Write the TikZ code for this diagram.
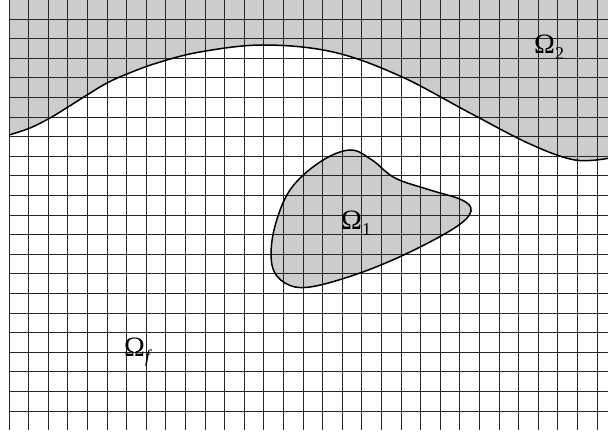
\documentclass[tikz,border=0pt]{standalone}
\usepackage{fontspec}
\setmainfont{Liberation Serif}
\definecolor{regiongray}{RGB}{204,204,204}
\tikzset{
  region/.style={fill=regiongray},
  gridline/.style={draw=black!85, line width=0.9pt},
  boundary/.style={draw=black, line width=1.5pt},
  lbl/.style={font=\fontsize{28}{30}\selectfont, inner sep=0pt}
}
\newcommand{\sbs}[1]{\raisebox{-0.45ex}{\fontsize{18}{20}\selectfont #1}}
\begin{document}
\begin{tikzpicture}[x=1pt,y=-1pt]
\useasboundingbox (0,0) rectangle (608,435);
\fill[white] (0,0) rectangle (608,435);
\begin{scope}
\clip (0,0) rectangle (608,435);
% top region
\fill[region] (9,-2) -- (9,135) -- plot[smooth, tension=0.6] coordinates {(9,135) (30,128) (50,118) (68,107) (87,95) (107,83) (127,74) (157,63) (200,52) (263,45) (333,52) (400,76) (470,113) (530,144) (575,160) (610,158)} -- (610,-2) -- cycle;
% inner region
\fill[region] plot[smooth cycle, tension=0.6] coordinates {(350,150) (372,160) (395,178) (430,190) (462,200) (471,211) (456,227) (410,252) (360,273) (310,287) (285,283) (272,265) (274,230) (290,190) (320,162)};
% grid
\foreach \k in {0,...,31} {
  \draw[gridline] ({9+19.6*\k},-2) -- ({9+19.6*\k},430);
}
\foreach \k in {0,...,21} {
  \draw[gridline] (9,{-0.6+19.6*\k}) -- (610,{-0.6+19.6*\k});
}
% boundaries
\draw[boundary] plot[smooth, tension=0.6] coordinates {(9,135) (30,128) (50,118) (68,107) (87,95) (107,83) (127,74) (157,63) (200,52) (263,45) (333,52) (400,76) (470,113) (530,144) (575,160) (610,158)};
\draw[boundary] plot[smooth cycle, tension=0.6] coordinates {(350,150) (372,160) (395,178) (430,190) (462,200) (471,211) (456,227) (410,252) (360,273) (310,287) (285,283) (272,265) (274,230) (290,190) (320,162)};
\end{scope}
\node[lbl, anchor=base west] (o2) at (534,54) {Ω\sbs{2}};
\node[lbl, anchor=base west] (o1) at (341,230) {Ω\sbs{1}};
\node[lbl, anchor=base west] (of) at (124,357) {Ω\sbs{\itshape f}};
\end{tikzpicture}
\end{document}
